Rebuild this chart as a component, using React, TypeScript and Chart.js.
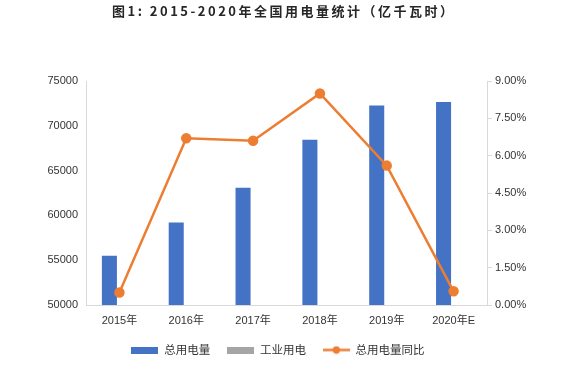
import React, { useEffect, useRef } from "react";
import { Chart, registerables } from "chart.js";

Chart.register(...registerables);

const titleText = "图1: 2015-2020年全国用电量统计（亿千瓦时）";
const categories = ["2015年", "2016年", "2017年", "2018年", "2019年", "2020年E"];
const seriesNames = ["总用电量", "工业用电", "总用电量同比"];
const totalPower = [55500, 59198, 63077, 68449, 72255, 72660];
const industrialPower: (number | null)[] = [null, null, null, null, null, null];
const totalYoY = [0.5, 6.7, 6.6, 8.5, 5.6, 0.55];
const leftAxisRange = [50000, 75000, 5000];
const rightAxisRange = [0, 9, 1.5];

const BLUE = "#4472C4";
const GRAY = "#A5A5A5";
const ORANGE = "#ED7D31";
const AXIS = "#D9D9D9";
const TEXT = "#333333";
const FONT = '"Liberation Sans", "Noto Sans CJK SC", sans-serif';

function boxImage(color: string, w: number, h: number) {
  const c = document.createElement("canvas");
  c.width = w;
  c.height = h;
  const g = c.getContext("2d")!;
  g.fillStyle = color;
  g.fillRect(0, 0, w, h);
  return c;
}

function lineImage(color: string, w: number, h: number) {
  const c = document.createElement("canvas");
  c.width = w;
  c.height = h;
  const g = c.getContext("2d")!;
  g.strokeStyle = color;
  g.lineWidth = 2.5;
  g.beginPath();
  g.moveTo(0, h / 2);
  g.lineTo(w, h / 2);
  g.stroke();
  g.fillStyle = color;
  g.beginPath();
  g.arc(w / 2, h / 2, 3.7, 0, Math.PI * 2);
  g.fill();
  return c;
}

const titlePlugin = {
  id: "customTitle",
  afterDraw(chart: any) {
    const ctx = chart.ctx as CanvasRenderingContext2D;
    ctx.save();
    ctx.font = 'bold 13px "Noto Sans CJK SC", sans-serif';
    (ctx as any).letterSpacing = "2.5px";
    ctx.fillStyle = "#262626";
    ctx.textBaseline = "middle";
    ctx.textAlign = "left";
    ctx.fillText(titleText, 112, 11.5);
    ctx.restore();
  },
};

export default function App() {
  const ref = useRef<HTMLCanvasElement | null>(null);

  useEffect(() => {
    if (!ref.current) return;
    const imgs = [boxImage(BLUE, 27, 7), boxImage(GRAY, 27, 7), lineImage(ORANGE, 27, 9)];
    const chart = new Chart(ref.current, {
      type: "bar",
      data: {
        labels: categories,
        datasets: [
          {
            type: "line",
            label: seriesNames[2],
            data: totalYoY,
            yAxisID: "y1",
            borderColor: ORANGE,
            backgroundColor: ORANGE,
            borderWidth: 2.5,
            pointRadius: 4,
            pointBackgroundColor: ORANGE,
            pointBorderColor: ORANGE,
            tension: 0,
            order: 0,
          } as any,
          {
            type: "bar",
            label: seriesNames[0],
            data: totalPower,
            yAxisID: "y",
            backgroundColor: BLUE,
            categoryPercentage: 0.6,
            barPercentage: 0.75,
            order: 1,
          },
          {
            type: "bar",
            label: seriesNames[1],
            data: industrialPower as any,
            yAxisID: "y",
            backgroundColor: GRAY,
            categoryPercentage: 0.6,
            barPercentage: 0.75,
            order: 2,
          },
        ],
      },
      options: {
        animation: false,
        responsive: false,
        devicePixelRatio: 1,
        layout: { padding: { top: 81, left: 0, right: 14, bottom: 5.25 } },
        plugins: {
          title: { display: false },
          tooltip: { enabled: false },
          legend: {
            display: true,
            position: "bottom",
            labels: {
              usePointStyle: true,
              pointStyleWidth: 27,
              boxWidth: 27,
              padding: 17,
              color: TEXT,
              font: { family: '"Noto Sans CJK SC", sans-serif', size: 11.5 },
              generateLabels: () =>
                [0, 1, 2].map((i) => ({
                  text: seriesNames[i],
                  pointStyle: imgs[i] as any,
                  fillStyle: [BLUE, GRAY, ORANGE][i],
                  strokeStyle: "transparent",
                  lineWidth: 0,
                  hidden: false,
                  fontColor: TEXT,
                  datasetIndex: [1, 2, 0][i],
                })),
            },
          },
        },
        scales: {
          x: {
            grid: { display: false, drawTicks: false },
            border: { display: true, color: AXIS, width: 1 },
            ticks: { padding: 9, color: TEXT, font: { family: FONT, size: 11 } },
            afterFit: (s: any) => {
              s.height = 22.25;
            },
          },
          y: {
            position: "left",
            min: leftAxisRange[0],
            max: leftAxisRange[1],
            grid: { display: false, drawTicks: false },
            border: { display: true, color: AXIS, width: 1 },
            ticks: {
              stepSize: leftAxisRange[2],
              padding: 8,
              color: TEXT,
              font: { family: FONT, size: 11 },
              callback: (v: any) => String(v),
            },
            afterFit: (s: any) => {
              s.width = 86;
            },
          },
          y1: {
            position: "right",
            min: rightAxisRange[0],
            max: rightAxisRange[1],
            grid: {
              display: true,
              drawOnChartArea: false,
              drawTicks: true,
              tickLength: 5,
              color: AXIS,
            },
            border: { display: true, color: AXIS, width: 1 },
            ticks: {
              stepSize: rightAxisRange[2],
              padding: 3,
              color: TEXT,
              font: { family: FONT, size: 11 },
              callback: (v: any) => Number(v).toFixed(2) + "%",
            },
            afterFit: (s: any) => {
              s.width = 69;
            },
          },
        },
      },
      plugins: [titlePlugin],
    });
    return () => chart.destroy();
  }, []);

  return (
    <div style={{ position: "absolute", left: 0, top: 0, width: 570, height: 371, background: "#fff" }}>
      <canvas ref={ref} width={570} height={371} style={{ display: "block" }} />
    </div>
  );
}
